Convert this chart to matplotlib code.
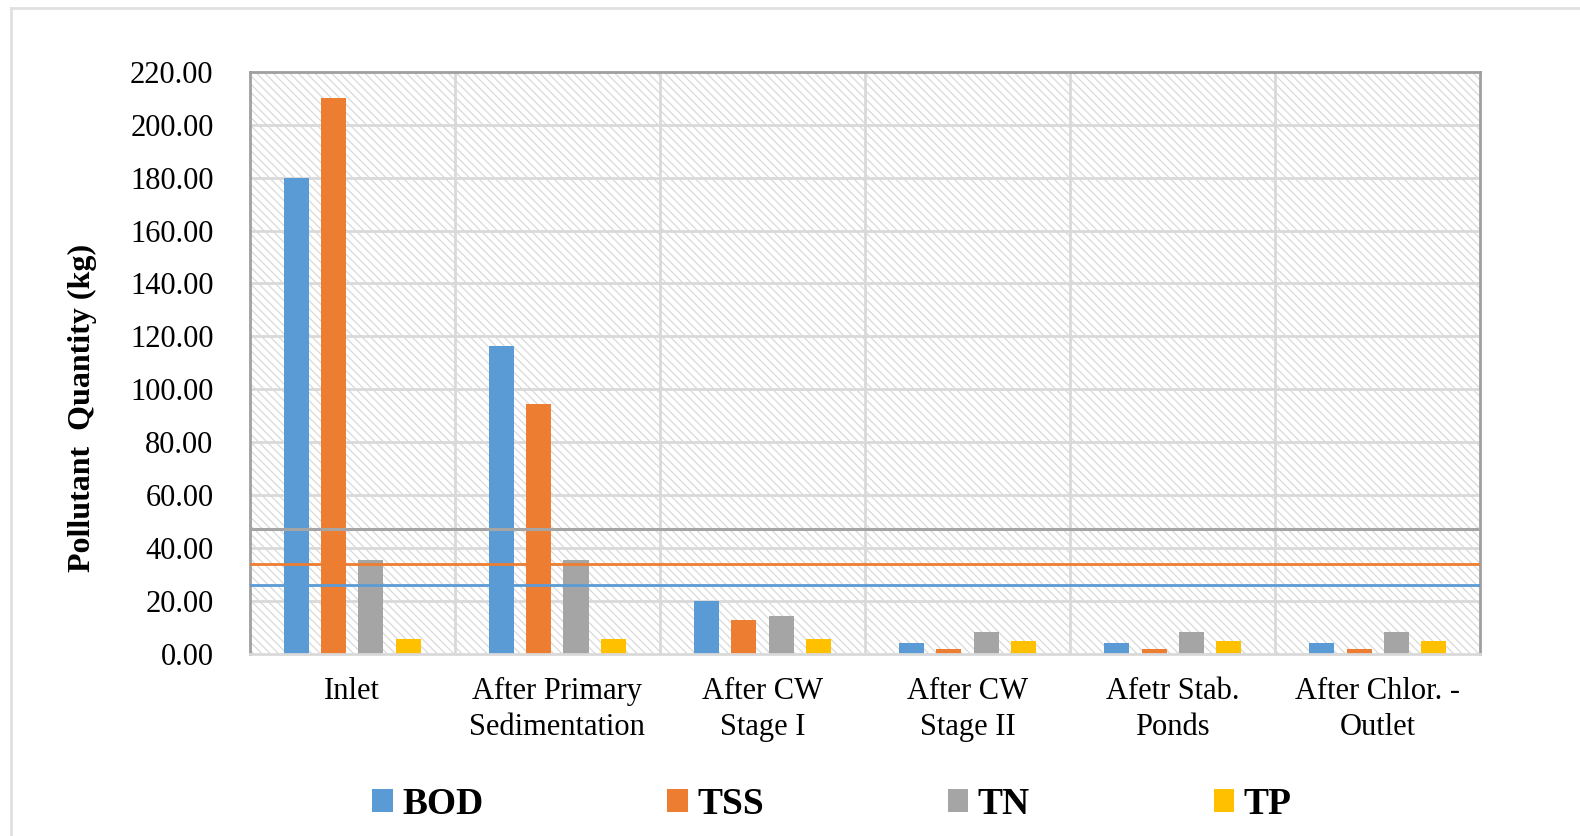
import matplotlib.pyplot as plt
import numpy as np
from matplotlib.patches import Patch, Rectangle
from matplotlib.lines import Line2D

plt.rcParams['font.family'] = ['Liberation Serif', 'DejaVu Serif']

stages = ['Inlet', 'After Primary\nSedimentation', 'After CW\nStage I',
          'After CW\nStage II', 'Afetr Stab.\nPonds', 'After Chlor. -\nOutlet']
bod = [180.0, 116.5, 20.0, 4.1, 4.1, 4.1]
tss = [210.0, 94.5, 12.7, 1.6, 1.6, 1.6]
tn = [35.5, 35.5, 14.3, 8.0, 8.0, 8.0]
tp = [5.5, 5.5, 5.5, 4.8, 4.8, 4.8]

# discharge limits
bod_limit = 25.8
tss_limit = 33.8
tn_limit = 47.0

names = ['BOD', 'TSS', 'TN', 'TP']
colors = ['#5b9bd5', '#ed7d31', '#a5a5a5', '#ffc000']
series = [bod, tss, tn, tp]

fig = plt.figure(figsize=(15.8, 8.36), dpi=100)
ax = fig.add_axes([0.158, 0.2183, 0.779, 0.6955])

x = np.arange(len(stages))
step = 0.182
width = 0.122

ax.set_xlim(-0.5, len(stages) - 0.5)
ax.set_ylim(0, 220)

# hatched plot area
plt.rcParams['hatch.linewidth'] = 0.9
ax.add_patch(Rectangle((0, 0), 1, 1, transform=ax.transAxes, facecolor='white',
                       edgecolor='#d9d9d9', linewidth=0, hatch='\\\\\\\\', zorder=0))

for yv in np.arange(20, 220, 20):
    ax.axhline(yv, color='#d9d9d9', lw=2, zorder=1)
for xv in x[:-1] + 0.5:
    ax.axvline(xv, color='#d9d9d9', lw=2, zorder=1)

for i, (vals, c) in enumerate(zip(series, colors)):
    ax.bar(x + (i - 1.5) * step, vals, width, color=c, zorder=2)

ax.axhline(tn_limit, color='#a5a5a5', lw=2.2, zorder=3)
ax.axhline(tss_limit, color='#ed7d31', lw=2, zorder=3)
ax.axhline(bod_limit, color='#5b9bd5', lw=2, zorder=3)

for side in ['top', 'right', 'left']:
    ax.spines[side].set_color('#a0a0a0')
    ax.spines[side].set_linewidth(2)
ax.spines['bottom'].set_color('#d9d9d9')
ax.spines['bottom'].set_linewidth(2)

ax.set_yticks(np.arange(0, 221, 20))
ax.set_yticklabels(['%.2f' % v for v in np.arange(0, 221, 20)])
ax.set_xticks(x)
ax.set_xticklabels(stages, linespacing=1.3)
ax.tick_params(axis='both', length=0, labelsize=22)
ax.tick_params(axis='y', pad=26)
ax.tick_params(axis='x', pad=17)

fig.text(0.052, 0.512, 'Pollutant  Quantity (kg)', rotation=90, fontsize=23,
         fontweight='bold', ha='center', va='center')

handles = [Patch(facecolor=c, edgecolor='none') for c in colors]
fig.legend(handles, names, loc='center', bbox_to_anchor=(0.5265, 0.038), ncol=4,
           frameon=False, prop={'size': 27, 'weight': 'bold'},
           handlelength=0.55, handleheight=0.55, handletextpad=0.25,
           columnspacing=4.9)

# outer frame
fig.add_artist(Line2D([11 / 1580, 1], [1 - 8 / 836, 1 - 8 / 836],
                      transform=fig.transFigure, color='#e0e0e0', lw=2))
fig.add_artist(Line2D([11 / 1580, 11 / 1580], [0, 1 - 8 / 836],
                      transform=fig.transFigure, color='#e0e0e0', lw=2))

fig.savefig('out.png', dpi=100)
